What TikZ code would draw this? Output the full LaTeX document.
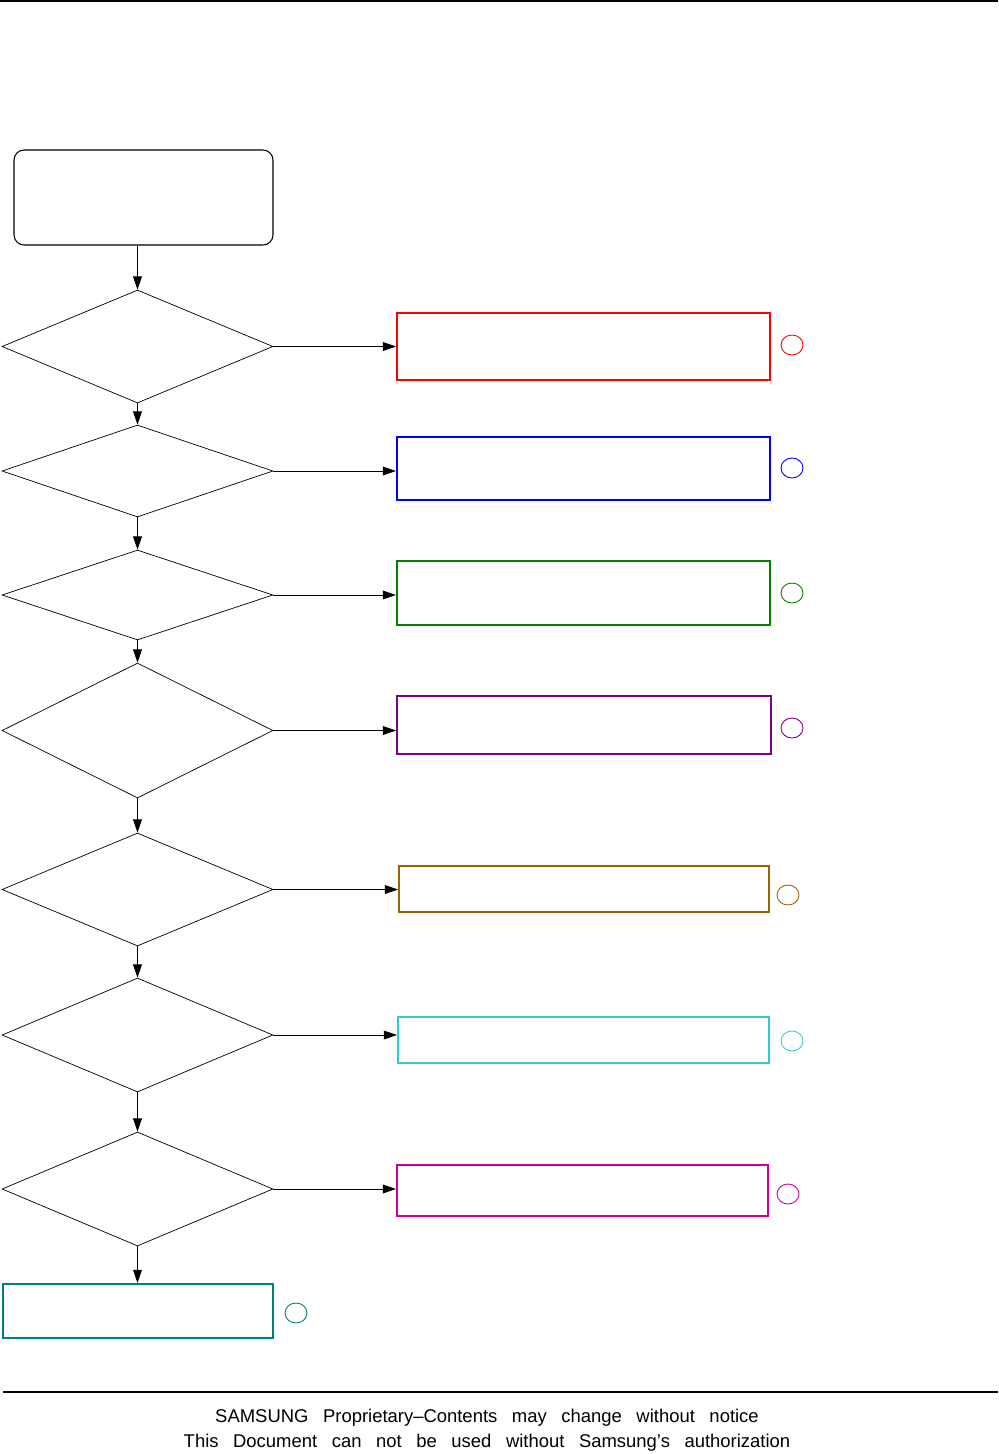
\documentclass[tikz,border=0pt]{standalone}
\usepackage{fontspec}
\setmainfont{Liberation Sans}
\usepackage{tikz}
\usetikzlibrary{arrows.meta,positioning,shapes.geometric}
\definecolor{flowred}{HTML}{FF0000}
\definecolor{flowblue}{HTML}{0000FF}
\definecolor{flowgreen}{HTML}{008000}
\definecolor{flowpurple}{HTML}{800080}
\definecolor{flowbrown}{HTML}{996600}
\definecolor{flowcyan}{HTML}{33CCCC}
\definecolor{flowmagenta}{HTML}{CC0099}
\definecolor{flowteal}{HTML}{008080}
\newcommand\footerfont{\fontsize{10.5}{12}\selectfont\spaceskip=8.3pt\relax}
\tikzset{
  startbox/.style={
    rectangle, rounded corners=0.2cm, draw=black, line width=0.6pt,
    minimum width=5.18cm, minimum height=1.9cm, inner sep=0pt
  },
  decision/.style={
    diamond, draw=black, line width=0.4pt,
    minimum width=5.42cm, minimum height=#1, inner sep=0pt
  },
  decision/.default=2.26cm,
  resultbox/.style={
    rectangle, draw=#1, line width=1.2pt, inner sep=0pt
  },
  resultbox/.default=black,
  ring/.style={
    ellipse, draw=#1, line width=0.5pt,
    minimum width=0.44cm, minimum height=0.40cm, inner sep=0pt
  },
  flowarrow/.style={
    -{Triangle[length=7.5pt, width=5pt]}, line width=0.5pt, color=black
  },
  ruleline/.style={line width=1pt, color=black},
  footertext/.style={font=\footerfont, inner sep=0pt}
}

\begin{document}
\begin{tikzpicture}[x=0.02cm, y=-0.02cm]
  \useasboundingbox (0,0) rectangle (998,1454);

  % page rules
  \coordinate (topL) at (0,1);
  \coordinate (topR) at (998,1);
  \coordinate (botL) at (3,1392);
  \coordinate (botR) at (998,1392);
  \draw[ruleline] (topL) -- (topR);
  \draw[ruleline] (botL) -- (botR);

  % start
  \node[startbox] (start) at (143.5,197.5) {};

  % decisions, one column
  \node[decision=2.26cm] (dec1) at (137.5,346.5) {};
  \node[decision=1.84cm] (dec2) at (137.5,471) {};
  \node[decision=1.80cm] (dec3) at (137.5,595) {};
  \node[decision=2.70cm] (dec4) at (137.5,730.5) {};
  \node[decision=2.26cm] (dec5) at (137.5,889.5) {};
  \node[decision=2.28cm] (dec6) at (137.5,1035) {};
  \node[decision=2.28cm] (dec7) at (137.5,1189) {};

  % result boxes on the right
  \node[resultbox=flowred, minimum width=7.46cm, minimum height=1.34cm] (res1) at (583.5,346.5) {};
  \node[resultbox=flowblue, minimum width=7.46cm, minimum height=1.26cm] (res2) at (583.5,468.5) {};
  \node[resultbox=flowgreen, minimum width=7.46cm, minimum height=1.28cm] (res3) at (583.5,593) {};
  \node[resultbox=flowpurple, minimum width=7.48cm, minimum height=1.16cm] (res4) at (584,725) {};
  \node[resultbox=flowbrown, minimum width=7.40cm, minimum height=0.92cm] (res5) at (584,889) {};
  \node[resultbox=flowcyan, minimum width=7.42cm, minimum height=0.92cm] (res6) at (583.5,1040) {};
  \node[resultbox=flowmagenta, minimum width=7.42cm, minimum height=1.02cm] (res7) at (582.5,1190.5) {};

  % final box
  \node[resultbox=flowteal, minimum width=5.40cm, minimum height=1.08cm] (final) at (138,1311) {};

  % small marks
  \node[ring=flowred] (mk1) at (792,345) {};
  \node[ring=flowblue] (mk2) at (792,468) {};
  \node[ring=flowgreen] (mk3) at (792,593) {};
  \node[ring=flowpurple] (mk4) at (792,728) {};
  \node[ring=flowbrown] (mk5) at (788,895) {};
  \node[ring=flowcyan] (mk6) at (792,1041) {};
  \node[ring=flowmagenta] (mk7) at (788,1194) {};
  \node[ring=flowteal] (mk8) at (296,1313) {};

  % arrows down the column
  \draw[flowarrow] (start.south -| dec1) -- (dec1.north);
  \draw[flowarrow] (dec1.south) -- (dec2.north);
  \draw[flowarrow] (dec2.south) -- (dec3.north);
  \draw[flowarrow] (dec3.south) -- (dec4.north);
  \draw[flowarrow] (dec4.south) -- (dec5.north);
  \draw[flowarrow] (dec5.south) -- (dec6.north);
  \draw[flowarrow] (dec6.south) -- (dec7.north);
  \draw[flowarrow] (dec7.south) -- (dec7.south |- final.north);

  % arrows to the right
  \foreach \i in {1,...,7} {
    \draw[flowarrow] (dec\i.east) -- (dec\i.east -| res\i.west);
  }

  % footer
  \node[footertext] (foot1) at (487,1418) {SAMSUNG Proprietary--Contents may change without notice};
  \node[footertext] (foot2) at (487,1443) {This Document can not be used without Samsung's authorization};
\end{tikzpicture}
\end{document}
